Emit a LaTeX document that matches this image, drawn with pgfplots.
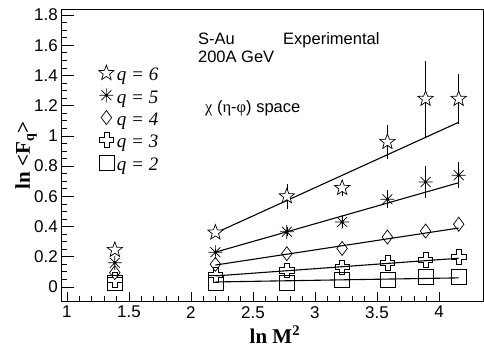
\documentclass[border=0pt]{standalone}
\usepackage{pgfplots}
\pgfplotsset{compat=1.18}
\usepackage{fontspec}
\setmainfont{Liberation Sans}
\newfontfamily\serif{Liberation Serif}

\pgfdeclareplotmark{ostar}{%
  \pgfpathmoveto{\pgfpointpolar{90}{\pgfplotmarksize}}%
  \pgfpathlineto{\pgfpointpolar{126}{0.42\pgfplotmarksize}}%
  \pgfpathlineto{\pgfpointpolar{162}{\pgfplotmarksize}}%
  \pgfpathlineto{\pgfpointpolar{198}{0.42\pgfplotmarksize}}%
  \pgfpathlineto{\pgfpointpolar{234}{\pgfplotmarksize}}%
  \pgfpathlineto{\pgfpointpolar{270}{0.42\pgfplotmarksize}}%
  \pgfpathlineto{\pgfpointpolar{306}{\pgfplotmarksize}}%
  \pgfpathlineto{\pgfpointpolar{342}{0.42\pgfplotmarksize}}%
  \pgfpathlineto{\pgfpointpolar{18}{\pgfplotmarksize}}%
  \pgfpathlineto{\pgfpointpolar{54}{0.42\pgfplotmarksize}}%
  \pgfpathclose
  \pgfusepathqfillstroke
}
\pgfdeclareplotmark{rast}{%
  \pgfpathmoveto{\pgfqpoint{-\pgfplotmarksize}{0pt}}%
  \pgfpathlineto{\pgfqpoint{\pgfplotmarksize}{0pt}}%
  \pgfpathmoveto{\pgfqpoint{0pt}{-\pgfplotmarksize}}%
  \pgfpathlineto{\pgfqpoint{0pt}{\pgfplotmarksize}}%
  \pgfpathmoveto{\pgfpointpolar{45}{\pgfplotmarksize}}%
  \pgfpathlineto{\pgfpointpolar{225}{\pgfplotmarksize}}%
  \pgfpathmoveto{\pgfpointpolar{135}{\pgfplotmarksize}}%
  \pgfpathlineto{\pgfpointpolar{315}{\pgfplotmarksize}}%
  \pgfusepathqstroke
  \pgfpathcircle{\pgfpointorigin}{0.22\pgfplotmarksize}%
  \pgfusepathqfill
}
\pgfdeclareplotmark{ocross}{%
  \pgfpathmoveto{\pgfpoint{-0.35\pgfplotmarksize}{\pgfplotmarksize}}%
  \pgfpathlineto{\pgfpoint{0.35\pgfplotmarksize}{\pgfplotmarksize}}%
  \pgfpathlineto{\pgfpoint{0.35\pgfplotmarksize}{0.35\pgfplotmarksize}}%
  \pgfpathlineto{\pgfpoint{\pgfplotmarksize}{0.35\pgfplotmarksize}}%
  \pgfpathlineto{\pgfpoint{\pgfplotmarksize}{-0.35\pgfplotmarksize}}%
  \pgfpathlineto{\pgfpoint{0.35\pgfplotmarksize}{-0.35\pgfplotmarksize}}%
  \pgfpathlineto{\pgfpoint{0.35\pgfplotmarksize}{-\pgfplotmarksize}}%
  \pgfpathlineto{\pgfpoint{-0.35\pgfplotmarksize}{-\pgfplotmarksize}}%
  \pgfpathlineto{\pgfpoint{-0.35\pgfplotmarksize}{-0.35\pgfplotmarksize}}%
  \pgfpathlineto{\pgfpoint{-\pgfplotmarksize}{-0.35\pgfplotmarksize}}%
  \pgfpathlineto{\pgfpoint{-\pgfplotmarksize}{0.35\pgfplotmarksize}}%
  \pgfpathlineto{\pgfpoint{-0.35\pgfplotmarksize}{0.35\pgfplotmarksize}}%
  \pgfpathclose
  \pgfusepathqstroke
}

\pgfplotsset{
  s6/.style={only marks, mark=ostar, mark size=8pt, mark options={fill=white, line width=0.7pt}},
  s5/.style={only marks, mark=rast, mark size=7pt, mark options={line width=0.7pt}},
  s4/.style={only marks, mark=diamond, mark size=7pt, mark options={line width=0.7pt}},
  s3/.style={only marks, mark=ocross, mark size=7.2pt, mark options={line width=0.7pt}},
  s2/.style={only marks, mark=square, mark size=7.5pt, mark options={line width=0.7pt}},
  fitline/.style={no marks, black, line width=1.1pt},
  ebar/.style={draw=none, mark=none, forget plot,
    error bars/.cd, y dir=both, y explicit,
    error bar style={draw=black, line width=0.6pt},
    error mark=-, error mark options={draw=black, mark size=1.6pt, line width=0.6pt}},
}

\begin{document}
\begin{tikzpicture}
\useasboundingbox (-61pt,-46pt) rectangle (423pt,301pt);
\begin{axis}[
  at={(0pt,0pt)}, anchor=south west,
  scale only axis, width=422pt, height=292pt,
  xmin=0.952, xmax=4.355, ymin=-0.093, ymax=1.84,
  xtick=\empty,
  ytick={0,0.2,0.4,0.6,0.8,1,1.2,1.4,1.6,1.8},
  minor y tick num=3, ytick pos=left,
  major tick length=13pt, minor tick length=6.5pt,
  axis line style={line width=0.8pt},
  every tick/.style={black, line width=0.7pt},
  /pgf/number format/assume math mode=true,
  yticklabel style={font=\fontsize{17}{17}\selectfont, inner sep=0pt, xshift=-3pt},
  clip=false,
  legend style={at={(axis cs:1.255,1.47)}, anchor=north west, draw=none, fill=none,
    font=\serif\itshape\fontsize{19}{19}\selectfont,
    row sep=0pt, column sep=3pt, inner sep=0pt,
    nodes={inner sep=0pt, text height=14pt, text depth=7.5pt}},
  legend cell align=left,
  legend image code/.code={\draw[#1] plot coordinates {(0pt,4.5pt)};},
]
\addlegendimage{s6}\addlegendentry{q = 6}
\addlegendimage{s5}\addlegendentry{q = 5}
\addlegendimage{s4}\addlegendentry{q = 4}
\addlegendimage{s3}\addlegendentry{q = 3}
\addlegendimage{s2}\addlegendentry{q = 2}

% fit lines
\addplot[fitline, forget plot] coordinates {(2.197,0.357) (4.159,1.09)};
\addplot[fitline, forget plot] coordinates {(2.197,0.23) (4.159,0.69)};
\addplot[fitline, forget plot] coordinates {(2.197,0.145) (4.159,0.39)};
\addplot[fitline, forget plot] coordinates {(2.197,0.073) (4.159,0.19)};
\addplot[fitline, forget plot] coordinates {(2.197,0.033) (4.159,0.06)};

% error bars
\addplot[ebar] coordinates {
 (2.773,0.60) +- (0,0.072) (3.219,0.655) +- (0,0.045) (3.584,0.96) +- (0,0.10)
 (3.892,1.245) +- (0,0.24) (4.159,1.245) +- (0,0.155)};
\addplot[ebar] coordinates {
 (2.197,0.23) +- (0,0.012) (2.773,0.365) +- (0,0.02) (3.219,0.43) +- (0,0.03) (3.584,0.58) +- (0,0.05)
 (3.892,0.695) +- (0,0.095) (4.159,0.74) +- (0,0.075)};

% markers
\addplot[s2, forget plot] coordinates {(1.386,0.025) (2.197,0.03) (2.773,0.03) (3.219,0.045) (3.584,0.05) (3.892,0.065) (4.159,0.07)};
\addplot[s3, forget plot] coordinates {(1.386,0.048) (2.197,0.08) (2.773,0.11) (3.219,0.13) (3.584,0.16) (3.892,0.18) (4.159,0.20)};
\addplot[s4, forget plot] coordinates {(1.386,0.095) (2.197,0.15) (2.773,0.22) (3.219,0.255) (3.584,0.33) (3.892,0.37) (4.159,0.415)};
\addplot[s5, forget plot] coordinates {(1.386,0.16) (2.197,0.23) (2.773,0.365) (3.219,0.43) (3.584,0.58) (3.892,0.695) (4.159,0.74)};
\addplot[s6, forget plot] coordinates {(1.386,0.245) (2.197,0.36) (2.773,0.60) (3.219,0.655) (3.584,0.96) (3.892,1.245) (4.159,1.245)};

\node[anchor=base west, font=\fontsize{16.5}{16.5}\selectfont, inner sep=0pt] at (axis cs:2.056,1.603) {S-Au};
\node[anchor=base west, font=\fontsize{16.5}{16.5}\selectfont, inner sep=0pt] at (axis cs:2.742,1.603) {Experimental};
\node[anchor=base west, font=\fontsize{16.5}{16.5}\selectfont, inner sep=0pt] at (axis cs:2.056,1.483) {200A GeV};
\node[anchor=base west, font=\fontsize{16.5}{16.5}\selectfont, inner sep=0pt] at (axis cs:2.113,1.152) {{\serif χ} ({\serif η}-{\serif φ}) space};

\node[rotate=90, anchor=base, inner sep=0pt, font=\serif\bfseries\fontsize{21}{21}\selectfont]
  at (axis description cs:-0.0735,0.498) {ln <F{\fontsize{14}{14}\selectfont\raisebox{-4pt}{q}}>};
\end{axis}
\begin{axis}[
  at={(0pt,0pt)}, anchor=south west,
  scale only axis, width=422pt, height=292pt,
  xmin=0.952, xmax=4.355, ymin=-0.093, ymax=1.84,
  hide y axis,
  xtick={1,1.5,2,2.5,3,3.5,4}, minor x tick num=4, xtick pos=left,
  major tick length=9pt, minor tick length=4.5pt,
  axis line style={line width=0.8pt},
  every tick/.style={black, line width=0.7pt},
  /pgf/number format/assume math mode=true,
  xticklabel style={font=\fontsize{17}{17}\selectfont, inner sep=0pt, yshift=-5pt},
  clip=false,
]
\addplot[draw=none, forget plot] coordinates {(1,0)};
\node[anchor=base, inner sep=0pt, font=\serif\bfseries\fontsize{21}{21}\selectfont]
  at (axis description cs:0.507,-0.144) {ln M\textsuperscript{2}};
\end{axis}
\end{tikzpicture}
\end{document}
